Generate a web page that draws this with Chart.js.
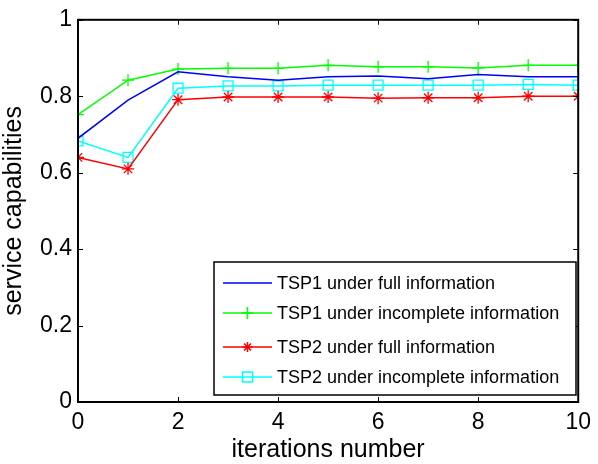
<!DOCTYPE html>
<html>
<head>
<meta charset="utf-8">
<script src="https://cdn.jsdelivr.net/npm/chart.js@4/dist/chart.umd.min.js"></script>
<style>
  body { margin: 0; background: #fff; }
  #wrap { width: 598px; height: 464px; }
</style>
</head>
<body>
<div id="wrap"><canvas id="c" width="598" height="464"></canvas></div>
<script>
// values
const iterations = [0, 1, 2, 3, 4, 5, 6, 7, 8, 9, 10];
const tsp1Full = [0.69, 0.79, 0.864, 0.851, 0.842, 0.851, 0.853, 0.846, 0.857, 0.851, 0.851];
const tsp1Incomplete = [0.752, 0.842, 0.871, 0.873, 0.873, 0.881, 0.877, 0.877, 0.874, 0.881, 0.881];
const tsp2Full = [0.64, 0.61, 0.791, 0.798, 0.798, 0.798, 0.795, 0.796, 0.796, 0.8, 0.8];
const tsp2Incomplete = [0.683, 0.64, 0.821, 0.827, 0.827, 0.829, 0.829, 0.829, 0.829, 0.831, 0.829];
const seriesNames = [
  "TSP1 under full information",
  "TSP1 under incomplete information",
  "TSP2 under full information",
  "TSP2 under incomplete information"
];
const xTicks = [0, 2, 4, 6, 8, 10];
const yTicks = [0, 0.2, 0.4, 0.6, 0.8, 1];

const FONT = "Arial, 'Liberation Sans', sans-serif";
const colors = ['#0000ff', '#00ff00', '#ff0000', '#00ffff'];
const markers = [false, 'cross', 'star', 'rect'];

function pts(arr) {
  return arr.map((v, i) => ({ x: iterations[i], y: v }));
}

// little marker for the legend, drawn by hand
function marker(ctx, style, x, y) {
  ctx.beginPath();
  if (style === 'cross') {
    ctx.moveTo(x - 6, y); ctx.lineTo(x + 6, y);
    ctx.moveTo(x, y - 6); ctx.lineTo(x, y + 6);
  } else if (style === 'star') {
    ctx.moveTo(x - 5, y); ctx.lineTo(x + 5, y);
    ctx.moveTo(x, y - 5); ctx.lineTo(x, y + 5);
    ctx.moveTo(x - 3.5, y - 3.5); ctx.lineTo(x + 3.5, y + 3.5);
    ctx.moveTo(x - 3.5, y + 3.5); ctx.lineTo(x + 3.5, y - 3.5);
  } else if (style === 'rect') {
    ctx.rect(x - 5, y - 5, 10, 10);
  }
  ctx.stroke();
}

// box + inward ticks like matlab
const boxPlugin = {
  id: 'box',
  afterDraw(chart) {
    const ctx = chart.ctx;
    const a = chart.chartArea;
    const xs = chart.scales.x, ys = chart.scales.y;
    ctx.save();
    ctx.strokeStyle = '#000';
    ctx.lineWidth = 2;
    ctx.strokeRect(a.left, a.top, a.right - a.left, a.bottom - a.top);
    ctx.lineWidth = 1;
    ctx.beginPath();
    xTicks.forEach(t => {
      const px = Math.round(xs.getPixelForValue(t)) + 0.5;
      ctx.moveTo(px, a.bottom); ctx.lineTo(px, a.bottom - 5);
      ctx.moveTo(px, a.top); ctx.lineTo(px, a.top + 5);
    });
    yTicks.forEach(t => {
      const py = Math.round(ys.getPixelForValue(t)) + 0.5;
      ctx.moveTo(a.left, py); ctx.lineTo(a.left + 5, py);
      ctx.moveTo(a.right, py); ctx.lineTo(a.right - 5, py);
    });
    ctx.stroke();

    // legend box
    const lx = 214, ly = 262, lw = 362, lh = 133;
    ctx.fillStyle = '#fff';
    ctx.fillRect(lx, ly, lw, lh);
    ctx.strokeStyle = '#000';
    ctx.lineWidth = 1.5;
    ctx.strokeRect(lx, ly, lw, lh);
    const rows = [283, 313, 347, 377];
    ctx.font = "18px " + FONT;
    ctx.textBaseline = 'middle';
    ctx.textAlign = 'left';
    seriesNames.forEach((name, i) => {
      ctx.strokeStyle = colors[i];
      ctx.lineWidth = 1.5;
      ctx.beginPath();
      ctx.moveTo(223, rows[i]); ctx.lineTo(272, rows[i]);
      ctx.stroke();
      if (markers[i]) marker(ctx, markers[i], 247.5, rows[i]);
      ctx.fillStyle = '#000';
      ctx.fillText(name, 277, rows[i] + 1);
    });
    ctx.restore();
  }
};

const ds = (i, data) => ({
  label: seriesNames[i],
  data: pts(data),
  borderColor: colors[i],
  backgroundColor: 'rgba(0,0,0,0)',
  borderWidth: 1.5,
  pointStyle: markers[i],
  pointRadius: markers[i] === 'rect' ? 7 : (markers[i] ? 6 : 0),
  pointBorderColor: colors[i],
  pointBackgroundColor: 'rgba(0,0,0,0)',
  pointBorderWidth: 1.3,
  tension: 0
});

new Chart(document.getElementById('c'), {
  type: 'line',
  data: {
    datasets: [
      ds(0, tsp1Full),
      ds(1, tsp1Incomplete),
      ds(2, tsp2Full),
      ds(3, tsp2Incomplete)
    ]
  },
  plugins: [boxPlugin],
  options: {
    responsive: false,
    animation: false,
    devicePixelRatio: 1,
    layout: { padding: { left: 0, top: 14, right: 13, bottom: 0 } },
    plugins: { legend: { display: false }, tooltip: { enabled: false } },
    scales: {
      x: {
        type: 'linear', min: 0, max: 10,
        afterFit(s) { s.height = 62; },
        afterBuildTicks(s) { s.ticks = xTicks.map(v => ({ value: v })); },
        grid: { display: false, drawTicks: false },
        border: { display: false },
        ticks: { color: '#000', font: { size: 23, family: FONT }, padding: 7, maxRotation: 0 },
        title: { display: true, text: 'iterations number', color: '#000', font: { size: 25, family: FONT, lineHeight: 1.1 }, padding: { top: 0, bottom: 0 } }
      },
      y: {
        min: 0, max: 1,
        afterFit(s) { s.width = 78; },
        afterBuildTicks(s) { s.ticks = yTicks.map(v => ({ value: v })); },
        grid: { display: false, drawTicks: false },
        border: { display: false },
        ticks: { color: '#000', font: { size: 23, family: FONT }, padding: 6, callback: v => String(v) },
        title: { display: true, text: 'service capabilities', color: '#000', font: { size: 25, family: FONT, lineHeight: 1.1 }, padding: { top: 0, bottom: 0 } }
      }
    }
  }
});
</script>
</body>
</html>
